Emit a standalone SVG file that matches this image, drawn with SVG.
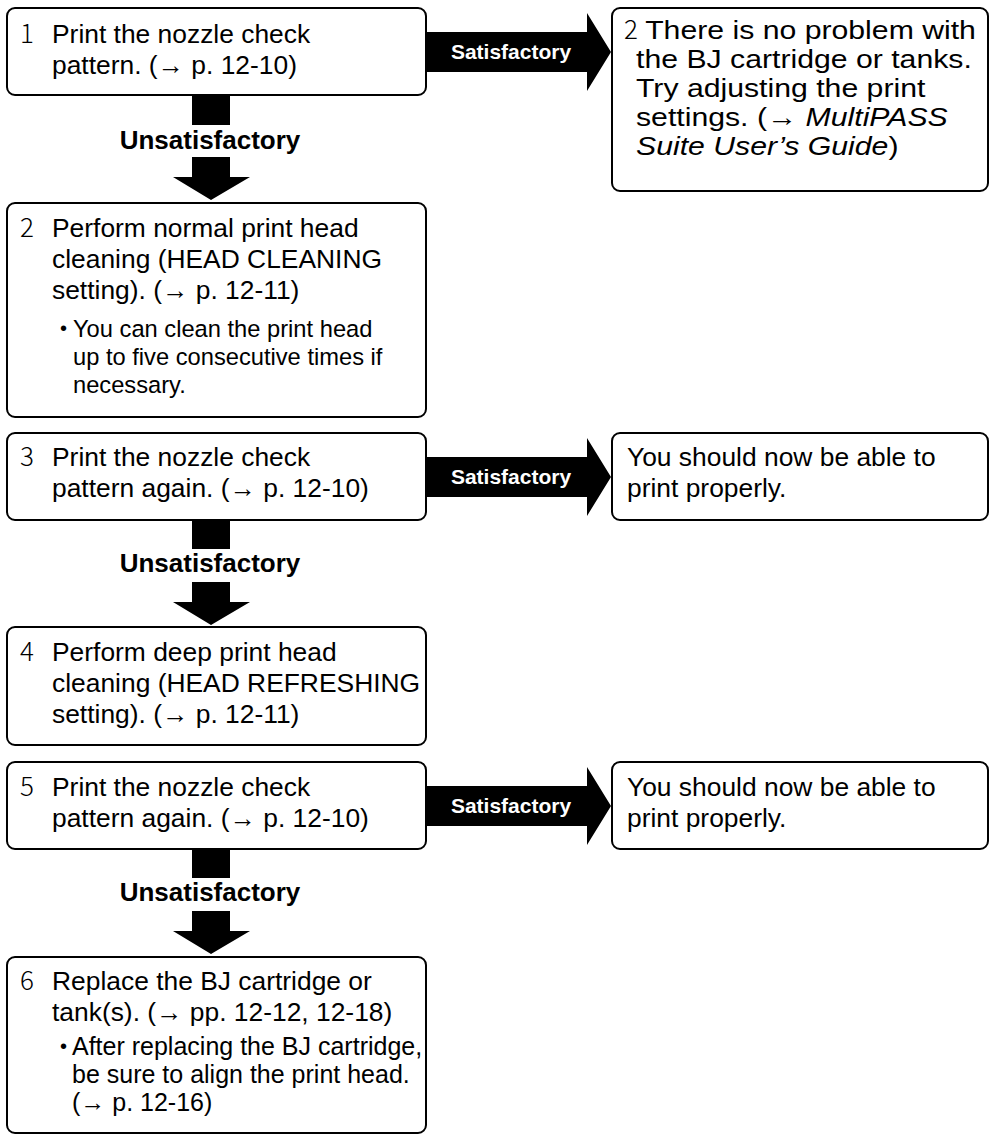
<svg xmlns="http://www.w3.org/2000/svg" width="992" height="1137" viewBox="0 0 992 1137">
<style>
.box{fill:#fff;stroke:#000;stroke-width:2}
.t{font-family:"Liberation Sans",Arial,sans-serif;font-size:26.4px;fill:#000}
.b{font-family:"Liberation Sans",Arial,sans-serif;font-size:23.7px;fill:#000}
.b6{font-family:"Liberation Sans",Arial,sans-serif;font-size:25px;fill:#000}
.dot{font-family:"Liberation Sans",Arial,sans-serif;font-size:20px;fill:#000}
.n{font-family:"Noto Sans CJK JP","Noto Sans",sans-serif;font-size:26px;font-weight:300;fill:#000}
.u{font-family:"Liberation Sans",Arial,sans-serif;font-size:26px;font-weight:bold;fill:#000;text-anchor:middle}
.s{font-family:"Liberation Sans",Arial,sans-serif;font-size:21px;font-weight:bold;fill:#fff;text-anchor:middle}
.arr{fill:#000}
</style>
<rect width="992" height="1137" fill="#fff"/>
<g id="connectors">
  <rect class="arr" x="192" y="95" width="38" height="30"/>
  <text class="u" x="210" y="149">Unsatisfactory</text>
  <polygon class="arr" points="192,157 230,157 230,177 250,177 211,200 173,177 192,177"/>
  <rect class="arr" x="192" y="520" width="38" height="29"/>
  <text class="u" x="210" y="572">Unsatisfactory</text>
  <polygon class="arr" points="192,582 230,582 230,602 250,602 211,625 173,602 192,602"/>
  <rect class="arr" x="192" y="849" width="38" height="29"/>
  <text class="u" x="210" y="901">Unsatisfactory</text>
  <polygon class="arr" points="192,911 230,911 230,931 250,931 211,954 173,931 192,931"/>
  <polygon class="arr" points="426,32 587,32 587,13 611,52 587,91 587,72 426,72"/>
  <text class="s" x="511" y="59">Satisfactory</text>
  <polygon class="arr" points="426,457 587,457 587,438 611,477 587,516 587,497 426,497"/>
  <text class="s" x="511" y="484">Satisfactory</text>
  <polygon class="arr" points="426,786 587,786 587,767 611,806 587,845 587,826 426,826"/>
  <text class="s" x="511" y="813">Satisfactory</text>
</g>
<g id="step1">
  <rect class="box" x="7" y="8" width="419" height="87" rx="8"/>
  <text class="n" x="20" y="43">1</text>
  <text class="t" x="52" y="43">Print the nozzle check</text>
  <text class="t" x="52" y="74">pattern. (→ p. 12-10)</text>
</g>
<g id="ok1">
  <rect class="box" x="612" y="8" width="376" height="183" rx="8"/>
  <text class="n" x="624" y="39">2</text>
  <g transform="translate(636 0) scale(1.145 1)">
    <text class="t" x="8" y="39" font-size="26px">There is no problem with</text>
    <text class="t" x="0" y="68" font-size="26px">the BJ cartridge or tanks.</text>
    <text class="t" x="0" y="97" font-size="26px">Try adjusting the print</text>
    <text class="t" x="0" y="126" font-size="26px">settings. (→ <tspan font-style="italic">MultiPASS</tspan></text>
    <text class="t" x="0" y="155" font-size="26px"><tspan font-style="italic">Suite User’s Guide</tspan>)</text>
  </g>
</g>
<g id="step2">
  <rect class="box" x="7" y="203" width="419" height="214" rx="8"/>
  <text class="n" x="20" y="237">2</text>
  <text class="t" x="52" y="237">Perform normal print head</text>
  <text class="t" x="52" y="268">cleaning (HEAD CLEANING</text>
  <text class="t" x="52" y="299">setting). (→ p. 12-11)</text>
  <text class="dot" x="60" y="335">•</text>
  <text class="b" x="73" y="337">You can clean the print head</text>
  <text class="b" x="73" y="365">up to five consecutive times if</text>
  <text class="b" x="73" y="393">necessary.</text>
</g>
<g id="step3">
  <rect class="box" x="7" y="433" width="419" height="87" rx="8"/>
  <text class="n" x="20" y="466">3</text>
  <text class="t" x="52" y="466">Print the nozzle check</text>
  <text class="t" x="52" y="497">pattern again. (→ p. 12-10)</text>
</g>
<g id="ok3">
  <rect class="box" x="612" y="433" width="376" height="87" rx="8"/>
  <text class="t" x="627" y="466">You should now be able to</text>
  <text class="t" x="627" y="497">print properly.</text>
</g>
<g id="step4">
  <rect class="box" x="7" y="627" width="419" height="118" rx="8"/>
  <text class="n" x="20" y="661">4</text>
  <text class="t" x="52" y="661">Perform deep print head</text>
  <text class="t" x="52" y="692">cleaning (HEAD REFRESHING</text>
  <text class="t" x="52" y="723">setting). (→ p. 12-11)</text>
</g>
<g id="step5">
  <rect class="box" x="7" y="762" width="419" height="87" rx="8"/>
  <text class="n" x="20" y="796">5</text>
  <text class="t" x="52" y="796">Print the nozzle check</text>
  <text class="t" x="52" y="827">pattern again. (→ p. 12-10)</text>
</g>
<g id="ok5">
  <rect class="box" x="612" y="762" width="376" height="87" rx="8"/>
  <text class="t" x="627" y="796">You should now be able to</text>
  <text class="t" x="627" y="827">print properly.</text>
</g>
<g id="step6">
  <rect class="box" x="7" y="957" width="419" height="176" rx="8"/>
  <text class="n" x="20" y="990">6</text>
  <text class="t" x="52" y="990">Replace the BJ cartridge or</text>
  <text class="t" x="52" y="1021">tank(s). (→ pp. 12-12, 12-18)</text>
  <text class="dot" x="60" y="1053">•</text>
  <text class="b6" x="72" y="1055">After replacing the BJ cartridge,</text>
  <text class="b6" x="72" y="1083">be sure to align the print head.</text>
  <text class="b6" x="72" y="1111">(→ p. 12-16)</text>
</g>
</svg>
